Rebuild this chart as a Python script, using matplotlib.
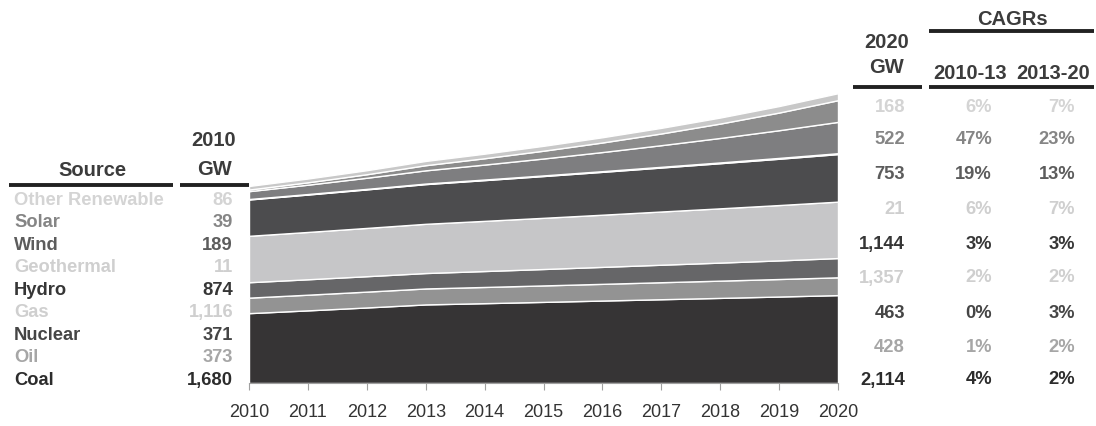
import matplotlib.pyplot as plt
from matplotlib.lines import Line2D

plt.rcParams['font.family'] = ['Liberation Sans', 'DejaVu Sans']

years = list(range(2010, 2021))

# GW by source (2010 and 2020 from the tables)
coal = [1680, 1747, 1817, 1890, 1920, 1951, 1983, 2015, 2047, 2080, 2114]
oil = [373, 377, 381, 384, 390, 396, 402, 409, 415, 421, 428]
nuclear = [371, 371, 371, 371, 383, 395, 408, 421, 434, 448, 463]
gas = [1116, 1138, 1161, 1184, 1207, 1231, 1255, 1280, 1305, 1331, 1357]
hydro = [874, 900, 927, 955, 980, 1005, 1031, 1058, 1086, 1114, 1144]
geothermal = [11, 12, 12, 13, 14, 15, 16, 17, 18, 20, 21]
wind = [189, 225, 268, 318, 360, 407, 460, 520, 589, 666, 753]
solar = [39, 57, 84, 124, 152, 187, 230, 282, 346, 425, 522]
other = [86, 91, 97, 102, 110, 118, 126, 135, 145, 156, 168]

# table rows, top to bottom
sources = ['Other Renewable', 'Solar', 'Wind', 'Geothermal', 'Hydro',
           'Gas', 'Nuclear', 'Oil', 'Coal']
series = [other, solar, wind, geothermal, hydro, gas, nuclear, oil, coal]
cagr_10_13 = ['6%', '47%', '19%', '6%', '3%', '2%', '0%', '1%', '4%']
cagr_13_20 = ['7%', '23%', '13%', '7%', '3%', '2%', '3%', '2%', '2%']

text_colors = ['#d4d4d4', '#858585', '#5c5c5c', '#cfcfcf', '#363636',
               '#cfcfcf', '#454545', '#a6a6a6', '#2c2c2c']
area_colors = ['#c8c8c8', '#8c8c8c', '#7e7e80', '#d0d0d0', '#4c4c4e',
               '#c6c6c8', '#666668', '#939393', '#363435']

W, H = 1096, 426


def fx(x):
    return x / W


def fy(y):
    return 1 - y / H


fig = plt.figure(figsize=(W / 100, H / 100), dpi=100)
ax = fig.add_axes([fx(249), fy(383), fx(838) - fx(249), fy(93) - fy(383)])

ax.stackplot(years, series[::-1], colors=area_colors[::-1],
             edgecolor='white', linewidth=1.0)
ax.set_xlim(2010, 2020)
ax.set_ylim(0, 6975)
ax.set_xticks(years)
ax.set_yticks([])
for s in ['top', 'right', 'left']:
    ax.spines[s].set_visible(False)
ax.spines['bottom'].set_color('#a0a0a0')
ax.tick_params(axis='x', length=5, color='#a0a0a0', pad=10, labelsize=13,
               labelcolor='#333333')

header_color = '#3c3c3c'
hsize = 14.5
fig.text(fx(92), fy(176), 'Source', ha='center', va='baseline',
         fontsize=hsize, fontweight='bold', color=header_color)
fig.text(fx(214), fy(146), '2010', ha='center', va='baseline',
         fontsize=hsize, fontweight='bold', color=header_color)
fig.text(fx(214), fy(175), 'GW', ha='center', va='baseline',
         fontsize=hsize, fontweight='bold', color=header_color)
fig.text(fx(887), fy(48), '2020', ha='center', va='baseline',
         fontsize=hsize, fontweight='bold', color=header_color)
fig.text(fx(887), fy(73), 'GW', ha='center', va='baseline',
         fontsize=hsize, fontweight='bold', color=header_color)
fig.text(fx(1012), fy(25), 'CAGRs', ha='center', va='baseline',
         fontsize=hsize, fontweight='bold', color=header_color)
fig.text(fx(970), fy(79), '2010-13', ha='center', va='baseline',
         fontsize=hsize, fontweight='bold', color=header_color)
fig.text(fx(1053), fy(79), '2013-20', ha='center', va='baseline',
         fontsize=hsize, fontweight='bold', color=header_color)

for x0, x1, y in [(9, 173, 185), (180, 249, 185), (853, 922, 87),
                  (929, 1094, 87), (929, 1094, 31)]:
    fig.add_artist(Line2D([fx(x0), fx(x1)], [fy(y), fy(y)],
                          color='#222222', linewidth=2.8,
                          solid_capstyle='butt'))

left_rows = [198.5 + 22.45 * i for i in range(len(sources))]
right_rows = [105, 138, 173, 208, 243, 276, 311, 345, 378]
rsize = 13.2
for i, name in enumerate(sources):
    c = text_colors[i]
    yl = left_rows[i] + 6.5
    fig.text(fx(14), fy(yl), name, ha='left', va='baseline',
             fontsize=rsize, fontweight='bold', color=c)
    fig.text(fx(233), fy(yl), f'{series[i][0]:,}', ha='right',
             va='baseline', fontsize=rsize, fontweight='bold', color=c)
    yr = right_rows[i] + 6.5
    fig.text(fx(905), fy(yr), f'{series[i][-1]:,}', ha='right',
             va='baseline', fontsize=rsize, fontweight='bold', color=c)
    fig.text(fx(992), fy(yr), cagr_10_13[i], ha='right', va='baseline',
             fontsize=rsize, fontweight='bold', color=c)
    fig.text(fx(1075), fy(yr), cagr_13_20[i], ha='right', va='baseline',
             fontsize=rsize, fontweight='bold', color=c)

fig.savefig('out.png', dpi=100)
